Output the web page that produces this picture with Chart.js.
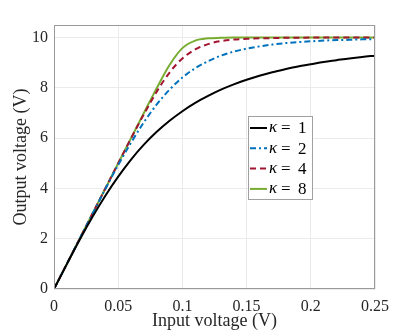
<!DOCTYPE html>
<html>
<head>
<meta charset="utf-8">
<script src="https://cdn.jsdelivr.net/npm/chart.js@4.4.1/dist/chart.umd.min.js"></script>
<style>
  html, body { margin: 0; padding: 0; background: #fff; }
  #wrap { width: 415px; height: 332px; position: relative; }
</style>
</head>
<body>
<div id="wrap"><canvas id="chart"></canvas></div>
<script>
// input voltage (V)
const xInput = [0, 0.01, 0.02, 0.03, 0.04, 0.05, 0.06, 0.07, 0.08, 0.09, 0.10, 0.11, 0.12,
  0.13, 0.14, 0.15, 0.16, 0.17, 0.18, 0.19, 0.20, 0.21, 0.22, 0.23, 0.24, 0.25];

// output voltage (V)
const yK1 = [0, 0.99, 1.96, 2.87, 3.71, 4.47, 5.15, 5.74, 6.25, 6.69, 7.07, 7.40, 7.68,
  7.93, 8.14, 8.32, 8.48, 8.62, 8.74, 8.85, 8.94, 9.03, 9.10, 9.17, 9.23, 9.28];
const yK2 = [0, 1.00, 2.00, 2.99, 3.98, 4.93, 5.82, 6.63, 7.34, 7.93, 8.41, 8.78, 9.06,
  9.28, 9.44, 9.56, 9.65, 9.72, 9.78, 9.82, 9.85, 9.88, 9.90, 9.91, 9.93, 9.94];
const yK4 = [0, 1.00, 2.00, 3.00, 4.00, 5.00, 5.99, 6.95, 7.85, 8.61, 9.17, 9.53, 9.74,
  9.86, 9.92, 9.95, 9.97, 9.98, 9.99, 9.99, 10.0, 10.0, 10.0, 10.0, 10.0, 10.0];
const yK8 = [0, 1.00, 2.00, 3.00, 4.00, 5.00, 6.00, 7.00, 7.99, 8.91, 9.58, 9.88, 9.97,
  9.99, 10.0, 10.0, 10.0, 10.0, 10.0, 10.0, 10.0, 10.0, 10.0, 10.0, 10.0, 10.0];

const kappas = ['1', '2', '4', '8'];
const xTicks = [0, 0.05, 0.1, 0.15, 0.2, 0.25];
const yTicks = [0, 2, 4, 6, 8, 10];

const FONT = '"Liberation Serif", "DejaVu Serif", serif';

function pts(ys) {
  return xInput.map(function(x, i) { return { x: x, y: ys[i] }; });
}

// box round the plot area
const boxPlugin = {
  id: 'box',
  afterDraw: function(chart) {
    const a = chart.chartArea;
    const c = chart.ctx;
    c.save();
    c.strokeStyle = '#9a9a9a';
    c.lineWidth = 1;
    c.strokeRect(a.left + 0.5, a.top + 0.5, a.right - a.left - 1, a.bottom - a.top - 1);
    c.restore();
  }
};

// legend inside the plot, like matlab
const legendBox = {
  id: 'legendBox',
  afterDraw: function(chart) {
    const c = chart.ctx;
    const left = 248, top = 116, w = 64, h = 83;
    c.save();
    c.fillStyle = '#fff';
    c.fillRect(left, top, w, h);
    c.strokeStyle = '#a0a0a0';
    c.lineWidth = 1;
    c.strokeRect(left + 0.5, top + 0.5, w, h);
    chart.data.datasets.forEach(function(ds, i) {
      const y = top + 12 + i * 20.3;
      c.strokeStyle = ds.borderColor;
      c.lineWidth = 2;
      c.setLineDash(ds.borderDash || []);
      c.beginPath();
      c.moveTo(left + 2, y);
      c.lineTo(left + 19, y);
      c.stroke();
      c.setLineDash([]);
      c.fillStyle = '#000';
      c.textBaseline = 'middle';
      c.font = 'italic 17px ' + FONT;
      c.fillText('\u03ba', left + 21, y);
      c.font = '17px ' + FONT;
      c.fillText('=', left + 33, y + 1);
      c.fillText(kappas[i], left + 50, y + 1);
    });
    c.restore();
  }
};

const ctx = document.getElementById('chart').getContext('2d');
const chart = new Chart(ctx, {
  type: 'line',
  data: {
    datasets: [
      { label: '\u03ba = 1', data: pts(yK1), borderColor: '#000000', borderWidth: 2 },
      { label: '\u03ba = 2', data: pts(yK2), borderColor: '#0072BD', borderWidth: 2, borderDash: [6, 3, 2, 3] },
      { label: '\u03ba = 4', data: pts(yK4), borderColor: '#A2142F', borderWidth: 2, borderDash: [6, 4] },
      { label: '\u03ba = 8', data: pts(yK8), borderColor: '#77AC30', borderWidth: 2 }
    ]
  },
  options: {
    responsive: true,
    maintainAspectRatio: false,
    animation: false,
    layout: { padding: { top: 25, right: 40, left: 0, bottom: 0 } },
    elements: {
      line: { cubicInterpolationMode: 'monotone', fill: false },
      point: { radius: 0 }
    },
    plugins: {
      legend: { display: false },
      tooltip: { enabled: false }
    },
    scales: {
      x: {
        type: 'linear',
        min: 0,
        max: 0.25,
        afterBuildTicks: function(s) { s.ticks = xTicks.map(function(v) { return { value: v }; }); },
        afterFit: function(s) { s.height = 43; },
        grid: { color: '#ebebeb', tickLength: 0, drawTicks: false },
        border: { display: false },
        ticks: {
          color: '#262626',
          padding: 8,
          maxRotation: 0,
          font: { family: FONT, size: 16 },
          callback: function(v) { return String(v); }
        },
        title: {
          display: true,
          text: 'Input voltage (V)',
          color: '#262626',
          padding: { top: 0, bottom: 0 },
          font: { family: FONT, size: 18 }
        }
      },
      y: {
        min: 0,
        max: 10.5,
        afterBuildTicks: function(s) { s.ticks = yTicks.map(function(v) { return { value: v }; }); },
        afterFit: function(s) { s.width = 54; },
        grid: { color: '#ebebeb', drawTicks: false },
        border: { display: false },
        ticks: {
          color: '#262626',
          padding: 6,
          font: { family: FONT, size: 16 }
        },
        title: {
          display: true,
          text: 'Output voltage (V)',
          color: '#262626',
          padding: { top: 10, bottom: 0 },
          font: { family: FONT, size: 18 }
        }
      }
    }
  },
  plugins: [boxPlugin, legendBox]
});
</script>
</body>
</html>
